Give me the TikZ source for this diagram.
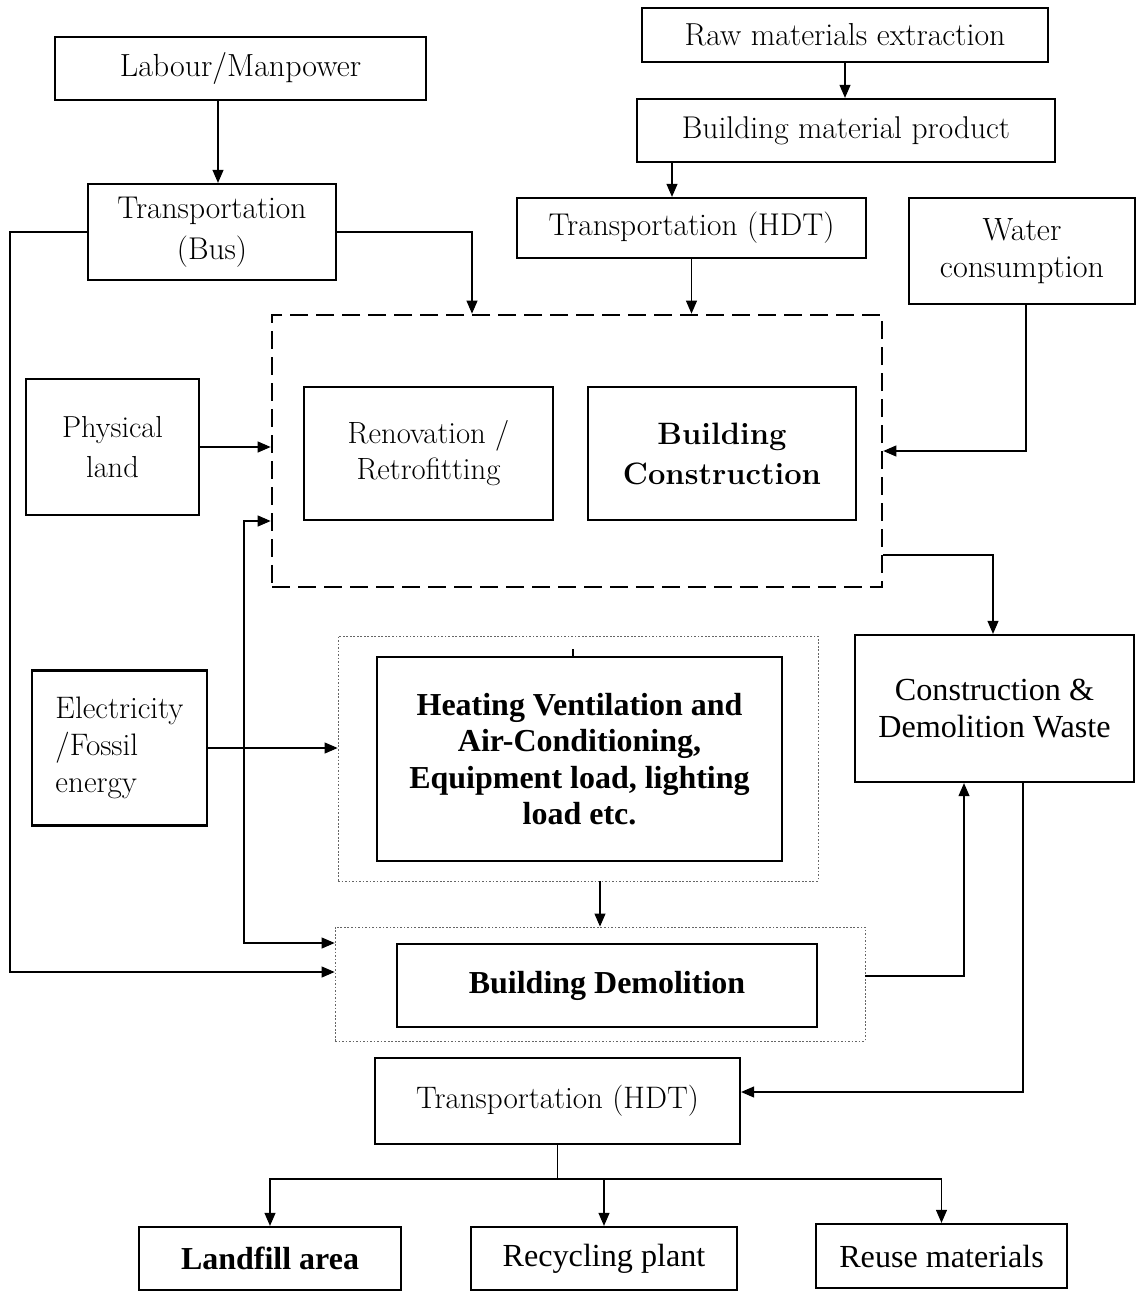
\documentclass[tikz,border=0pt]{standalone}
\usepackage{fontspec}
\newfontfamily\tnr{Liberation Serif}
\usetikzlibrary{arrows.meta}
\newcommand\garfont{\fontsize{17.9}{21.5}\selectfont}
\newcommand\garbold{\bfseries\fontsize{17.6}{22.8}\selectfont}
\newcommand\tnrbold{\tnr\bfseries\fontsize{18.2}{20.8}\selectfont}
\newcommand\tnrreg{\tnr\fontsize{18.3}{20.8}\selectfont}
\begin{document}
\begin{tikzpicture}[x=0.02cm,y=-0.02cm,
  box/.style={draw, line width=1.3pt, inner sep=0pt, align=center, font=\garfont},
  dashbox/.style={draw, line width=1.6pt, dash pattern=on 0.36cm off 0.16cm, inner sep=0pt},
  dotbox/.style={draw, gray!80!black, line width=0.5pt, dash pattern=on 1pt off 1pt, inner sep=0pt},
  arr/.style={-{Triangle[length=0.26cm,width=0.22cm]}, line width=0.6pt},
  arrb/.style={{Triangle[length=0.26cm,width=0.22cm]}-{Triangle[length=0.26cm,width=0.22cm]}, line width=0.6pt},
  ln/.style={line width=0.6pt}]
\useasboundingbox (0,0) rectangle (1137,1292);

% containers
\node[dashbox, minimum width=12.2cm, minimum height=5.44cm] (dash) at (577,451) {};
\node[dotbox, minimum width=9.6cm, minimum height=4.9cm] (hvacout) at (578,758.5) {};
\node[dotbox, minimum width=10.6cm, minimum height=2.28cm] (demout) at (600,984) {};

% boxes
\node[box, minimum width=7.42cm, minimum height=1.26cm, font=\fontsize{18.2}{21.5}\selectfont] (labour) at (240.5,68.5) {Labour/Manpower};
\node[box, minimum width=4.96cm, minimum height=1.92cm, font=\fontsize{17.9}{23.2}\selectfont] (bus) at (212,232) {Transportation\\(Bus)};
\node[box, minimum width=8.12cm, minimum height=1.08cm, font=\fontsize{18.1}{21.5}\selectfont] (raw) at (845,35) {Raw materials extraction};
\node[box, minimum width=8.36cm, minimum height=1.26cm] (bmp) at (846,130.5) {Building material product};
\node[box, minimum width=6.98cm, minimum height=1.2cm] (hdt1) at (691.5,228) {Transportation (HDT)};
\node[box, minimum width=4.52cm, minimum height=2.12cm, font=\fontsize{18.3}{21}\selectfont] (water) at (1022,251) {Water\\consumption};
\node[box, minimum width=4.98cm, minimum height=2.66cm, font=\fontsize{17.5}{20.5}\selectfont] (reno) at (428.5,453.5) {Renovation /\\Retrofitting};
\node[box, minimum width=5.36cm, minimum height=2.66cm, font=\garbold] (bc) at (722,453.5) {Building\\Construction};
\node[box, minimum width=3.46cm, minimum height=2.72cm, font=\fontsize{17.3}{22.8}\selectfont] (land) at (112.5,447) {Physical\\land};
\node[box, minimum width=3.5cm, minimum height=3.1cm, align=left, font=\fontsize{17.7}{21.2}\selectfont] (elec) at (119.5,748) {Electricity\\/Fossil\\energy};
\node[box, minimum width=8.1cm, minimum height=4.08cm, font=\tnrbold] (hvac) at (579.5,759) {Heating Ventilation and\\Air-Conditioning,\\Equipment load, lighting\\load etc.};
\node[box, minimum width=8.4cm, minimum height=1.66cm, font=\tnrbold] (dem) at (607,985.5) {Building Demolition};
\node[box, minimum width=5.58cm, minimum height=2.94cm, font=\tnrreg] (cdw) at (994.5,708.5) {Construction \&\\Demolition Waste};
\node[box, minimum width=7.3cm, minimum height=1.72cm, font=\fontsize{17.7}{21}\selectfont] (hdt2) at (557.5,1101) {Transportation (HDT)};
\node[box, minimum width=5.24cm, minimum height=1.26cm, font=\tnrbold] (landfill) at (270,1258.5) {Landfill area};
\node[box, minimum width=5.32cm, minimum height=1.26cm, font=\tnrreg] (recyc) at (604,1258.5) {Recycling plant};
\node[box, minimum width=5.02cm, minimum height=1.28cm, font=\tnrreg] (reuse) at (941.5,1256) {Reuse materials};

% helper coordinates
\coordinate (p1) at (218,0);
\coordinate (p2) at (472,0);
\coordinate (lx) at (10,972);
\coordinate (bx) at (672,0);
\coordinate (wx) at (1026,451);
\coordinate (v1) at (244,521);
\coordinate (v2) at (244,943);
\coordinate (e1) at (993,555);
\coordinate (d1) at (964,976);
\coordinate (c1) at (1023,1092);
\coordinate (s) at (557,1179);
\coordinate (t1) at (573,649);

% connectors
\draw[arr] (p1 |- labour.south) -- (p1 |- bus.north);
\draw[arr] (bus.east) -| (p2 |- dash.north);
\draw[arr] (bus.west) -| (lx) -- (lx -| demout.west);
\draw[arr] (raw.south) -- (raw.south |- bmp.north);
\draw[arr] (bx |- bmp.south) -- (bx |- hdt1.north);
\draw[arr] (hdt1.south) -- (hdt1.south |- dash.north);
\draw[arr] (wx |- water.south) -- (wx) -- (wx -| dash.east);
\draw[arr] (land.east) -- (land.east -| dash.west);
\draw[arrb] (v1 -| dash.west) -- (v1) -- (v2) -- (v2 -| demout.west);
\draw[arr] (elec.east) -- (elec.east -| hvacout.west);
\draw[ln] (t1) -- (t1 |- hvac.north);
\draw[arr] (demout.north |- hvacout.south) -- (demout.north);
\draw[arr] (e1 -| dash.east) -- (e1) -- (e1 |- cdw.north);
\draw[arr] (d1 -| demout.east) -- (d1) -- (d1 |- cdw.south);
\draw[arr] (c1 |- cdw.south) -- (c1) -- (c1 -| hdt2.east);
\draw[ln] (hdt2.south) -- (hdt2.south |- s);
\draw[arr] (hdt2.south |- s) -| (landfill.north);
\draw[arr] (hdt2.south |- s) -| (recyc.north);
\draw[arr] (hdt2.south |- s) -| (reuse.north);
\end{tikzpicture}
\end{document}
